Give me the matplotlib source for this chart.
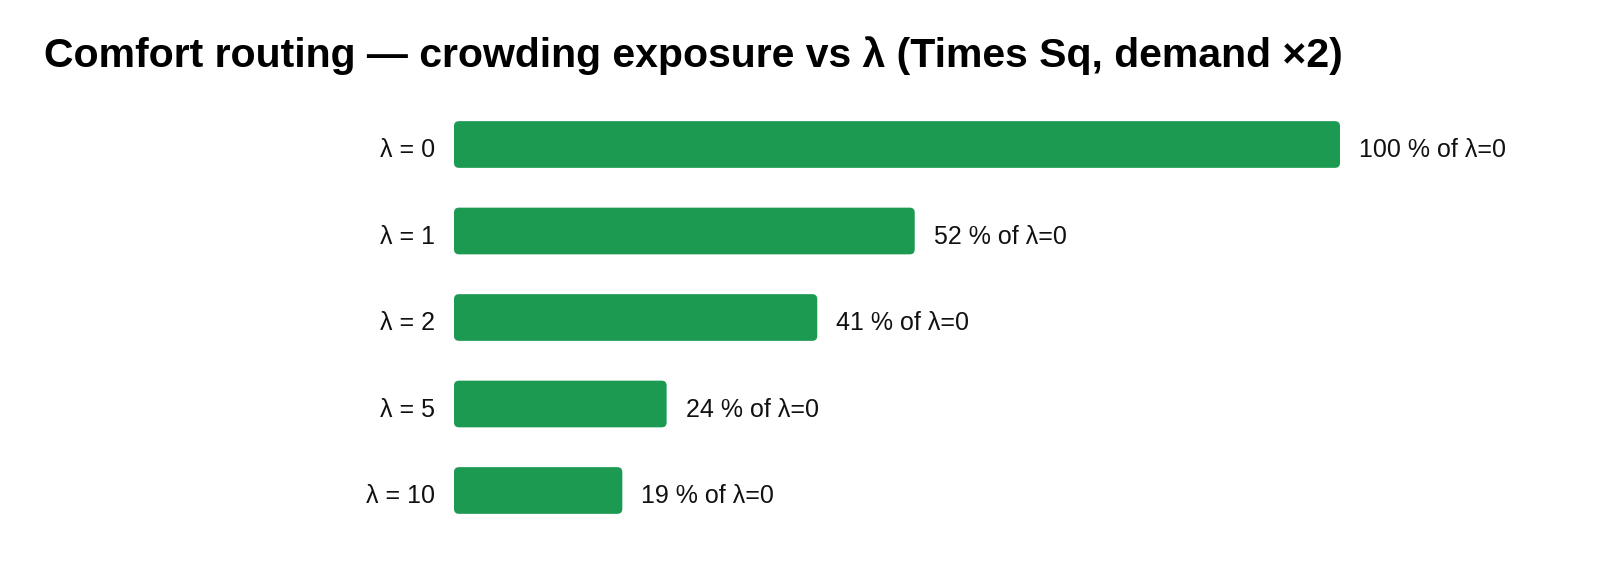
import matplotlib.pyplot as plt
from matplotlib.patches import FancyBboxPatch

plt.rcParams['font.family'] = ['Liberation Sans', 'DejaVu Sans']

#%% data
lambdas = ['λ = 0', 'λ = 1', 'λ = 2', 'λ = 5', 'λ = 10']
exposure_pct = [100, 52, 41, 24, 19]
bar_color = '#1c9a52'

#%% figure
fig = plt.figure(figsize=(16, 5.84), dpi=100)
ax = fig.add_axes([454 / 1600, 1 - 533.75 / 584, (1520 - 454) / 1600, 432.5 / 584])

ypos = list(range(len(lambdas)))
bars = ax.barh(ypos, exposure_pct, height=0.54, color=bar_color)
ax.set_xlim(0, 100 * (1520 - 454) / 886)
ax.set_ylim(len(lambdas) - 0.5, -0.5)

# swap plain bars for rounded ones
px_x = 886 / 100
px_y = 86.5
for b in bars:
    x, y = b.get_x(), b.get_y()
    w, h = b.get_width(), b.get_height()
    r = 5 / px_x
    fb = FancyBboxPatch((x, y), w, h,
                        boxstyle='round,pad=0,rounding_size=%f' % r,
                        mutation_aspect=px_x / px_y,
                        facecolor=bar_color, edgecolor='none')
    ax.add_patch(fb)
    b.remove()

for yy, v, lab in zip(ypos, exposure_pct, lambdas):
    ax.annotate('%d %% of λ=0' % v, (v, yy), xytext=(13.7, -2.5),
                textcoords='offset points', va='center_baseline', ha='left',
                fontsize=18, color='#111111')
    # category label left of the bar
    ax.annotate(lab, (0, yy), xytext=(-13.7, -2.3),
                textcoords='offset points', va='center_baseline', ha='right',
                fontsize=18, color='#111111', annotation_clip=False)

ax.set_xticks([])
ax.set_yticks([])
for s in ax.spines.values():
    s.set_visible(False)

fig.text(44 / 1600, 1 - 67 / 584, 'Comfort routing — crowding exposure vs λ (Times Sq, demand ×2)',
         fontsize=29.5, fontweight='bold', ha='left', va='baseline')

fig.savefig('out.png', dpi=100)
